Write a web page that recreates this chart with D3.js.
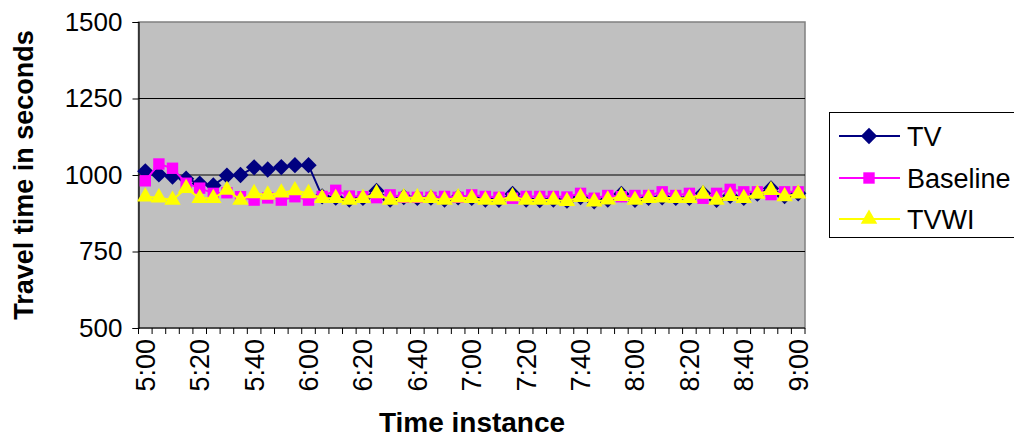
<!DOCTYPE html>
<html>
<head>
<meta charset="utf-8">
<script src="https://cdn.jsdelivr.net/npm/d3@7"></script>
<style>
  html, body { margin: 0; padding: 0; background: #ffffff; }
  svg { display: block; font-family: "Liberation Sans", Arial, sans-serif; }
</style>
</head>
<body>
<svg id="chart" width="1014" height="438"></svg>
<script>
// ---- data ----
const times = ["5:00","5:05","5:10","5:15","5:20","5:25","5:30","5:35","5:40","5:45","5:50","5:55",
  "6:00","6:05","6:10","6:15","6:20","6:25","6:30","6:35","6:40","6:45","6:50","6:55",
  "7:00","7:05","7:10","7:15","7:20","7:25","7:30","7:35","7:40","7:45","7:50","7:55",
  "8:00","8:05","8:10","8:15","8:20","8:25","8:30","8:35","8:40","8:45","8:50","8:55","9:00"];
const shownLabels = ["5:00","5:20","5:40","6:00","6:20","6:40","7:00","7:20","7:40","8:00","8:20","8:40","9:00"];
const yTicks = [500, 750, 1000, 1250, 1500];

const tv = [1012,1002,995,988,972,966,998,1000,1025,1018,1026,1032,1032,
  930,926,920,925,948,920,928,925,926,920,927,925,920,919,938,920,918,920,916,
  928,914,920,938,919,925,927,925,925,940,919,932,925,939,956,931,940];
const baseline = [981,1036,1022,973,957,940,942,929,918,925,918,929,918,
  930,950,931,929,926,935,927,927,927,930,927,935,930,927,924,930,930,930,928,
  940,924,933,929,933,933,945,933,940,924,940,953,945,945,936,945,945];
const tvwi = [929,926,918,957,924,924,951,918,940,935,942,949,940,
  924,924,918,924,940,918,926,926,924,918,926,924,918,918,930,918,918,918,914,
  927,913,919,931,918,924,926,924,924,938,918,931,924,938,950,930,939];

const seriesNames = ["TV", "Baseline", "TVWI"];
const seriesColors = ["#000080", "#FF00FF", "#FFFF00"];
const seriesData = [tv, baseline, tvwi];

// ---- layout ----
const plot = { left: 138.5, right: 805, top: 22, bottom: 328 };
const svg = d3.select("#chart");

const x = d3.scaleBand().domain(times).range([plot.left, plot.right]).padding(0);
const cx = t => x(t) + x.bandwidth() / 2;
const y = d3.scaleLinear().domain([500, 1500]).range([plot.bottom, plot.top]);

// plot background
svg.append("rect")
  .attr("x", plot.left).attr("y", plot.top)
  .attr("width", plot.right - plot.left).attr("height", plot.bottom - plot.top)
  .attr("fill", "#C0C0C0")
  .attr("stroke", "#808080").attr("stroke-width", 1.5);

// gridlines
svg.append("g").selectAll("line")
  .data(yTicks.filter(v => v > 500 && v < 1500))
  .join("line")
  .attr("x1", plot.left).attr("x2", plot.right)
  .attr("y1", d => y(d)).attr("y2", d => y(d))
  .attr("stroke", "#000").attr("stroke-width", 1);

// y axis
const yAxis = svg.append("g")
  .attr("transform", `translate(${plot.left},0)`)
  .call(d3.axisLeft(y).tickValues(yTicks).tickSize(6).tickPadding(10).tickFormat(d3.format("d")));
yAxis.select(".domain").attr("stroke", "#000").attr("stroke-width", 1.2);
yAxis.selectAll(".tick line").attr("stroke", "#000");
yAxis.selectAll("text").attr("font-size", 26).attr("fill", "#000")
  .attr("font-family", "'Liberation Sans', Arial, sans-serif");

// x axis line
svg.append("line")
  .attr("x1", plot.left).attr("x2", plot.right)
  .attr("y1", plot.bottom).attr("y2", plot.bottom)
  .attr("stroke", "#000").attr("stroke-width", 1.2);
// x tick marks at category boundaries
const boundaries = times.map(t => x(t)).concat([x(times[times.length - 1]) + x.bandwidth()]);
svg.append("g").selectAll("line")
  .data(boundaries).join("line")
  .attr("x1", d => d).attr("x2", d => d)
  .attr("y1", plot.bottom).attr("y2", plot.bottom + 6)
  .attr("stroke", "#000").attr("stroke-width", 1);
// x labels rotated
svg.append("g").selectAll("text")
  .data(shownLabels).join("text")
  .attr("transform", d => `translate(${cx(d) + 9.5},${plot.bottom + 11}) rotate(-90)`)
  .attr("text-anchor", "end")
  .attr("font-size", 27)
  .attr("fill", "#000")
  .text(d => d);

// axis titles
svg.append("text")
  .attr("transform", `translate(33,175) rotate(-90)`)
  .attr("text-anchor", "middle")
  .attr("font-size", 27).attr("font-weight", "bold")
  .text("Travel time in seconds");
svg.append("text")
  .attr("x", 472).attr("y", 432)
  .attr("text-anchor", "middle")
  .attr("font-size", 28).attr("font-weight", "bold")
  .text("Time instance");

// ---- series ----
const markerPath = [
  d3.symbol().type(d3.symbolDiamond2).size(170),
  d3.symbol().type(d3.symbolSquare2).size(165),
  d3.symbol().type(d3.symbolTriangle2).size(195)
];
const line = d3.line().x((d, i) => cx(times[i])).y(d => y(d));

seriesData.forEach((vals, s) => {
  const g = svg.append("g");
  g.append("path")
    .datum(vals)
    .attr("d", line)
    .attr("fill", "none")
    .attr("stroke", seriesColors[s])
    .attr("stroke-width", 2);
  g.selectAll("path.m")
    .data(vals).join("path")
    .attr("class", "m")
    .attr("d", markerPath[s])
    .attr("transform", (d, i) => `translate(${cx(times[i])},${y(d)})`)
    .attr("fill", seriesColors[s]);
});

// ---- legend ----
const lg = svg.append("g");
lg.append("rect")
  .attr("x", 829.5).attr("y", 112.5).attr("width", 200).attr("height", 125)
  .attr("fill", "#fff").attr("stroke", "#000").attr("stroke-width", 1);
const legendY = [136, 178, 219];
seriesNames.forEach((name, s) => {
  lg.append("line")
    .attr("x1", 839).attr("x2", 900)
    .attr("y1", legendY[s]).attr("y2", legendY[s])
    .attr("stroke", seriesColors[s]).attr("stroke-width", 2);
  lg.append("path")
    .attr("d", markerPath[s]())
    .attr("transform", `translate(869,${legendY[s]})`)
    .attr("fill", seriesColors[s]);
  lg.append("text")
    .attr("x", 907).attr("y", legendY[s])
    .attr("dy", "0.36em")
    .attr("font-size", 27)
    .text(name);
});
</script>
</body>
</html>
